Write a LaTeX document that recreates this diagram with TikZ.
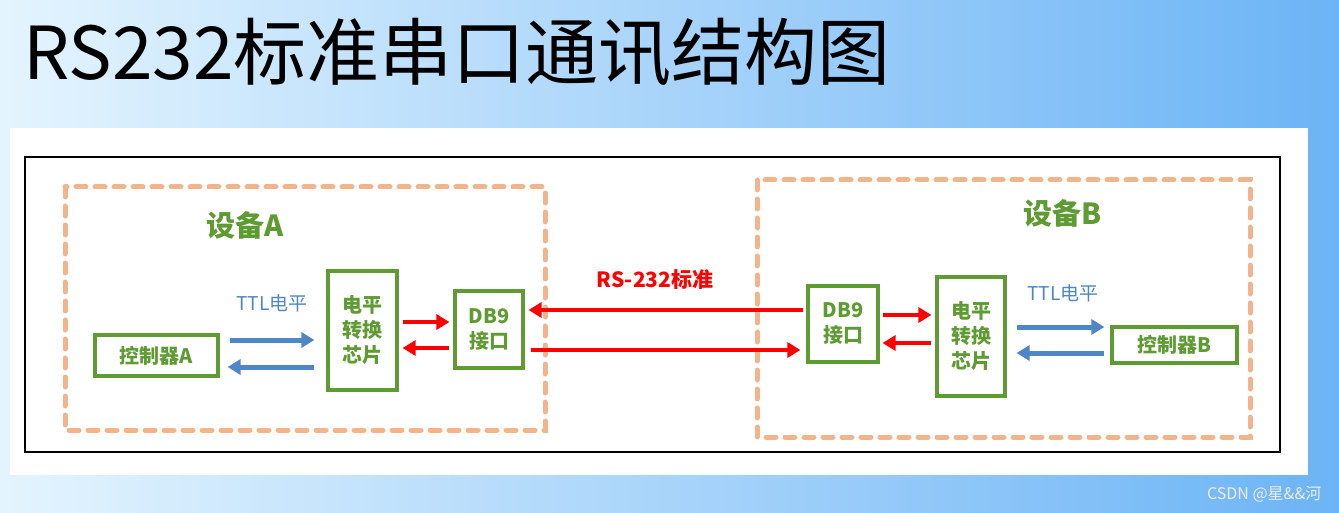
\documentclass[tikz,border=0pt]{standalone}
\usepackage{fontspec}
\setmainfont{Noto Sans CJK SC}
\newfontfamily\cjk{Noto Sans CJK SC}
\usetikzlibrary{arrows.meta}
\definecolor{gr}{HTML}{5E9B32}
\definecolor{og}{HTML}{F2B48A}
\definecolor{bl}{HTML}{4F86C6}
\definecolor{bgl}{HTML}{E4F4FE}
\definecolor{bgr}{HTML}{6CB4F6}
\begin{document}
\begin{tikzpicture}[x=1pt,y=-1pt,
  box/.style={draw=gr,line width=3.2pt,fill=white,text=gr,font=\cjk\fontsize{20}{25}\selectfont\bfseries,align=center,inner sep=0pt},
  grp/.style={draw=og,line width=5pt,line cap=round,dash pattern=on 10pt off 9pt},
  rarr/.style={draw=red,line width=4pt,-{Triangle[length=13pt,width=15pt]}},
  barr/.style={draw=bl,line width=5pt,-{Triangle[length=13pt,width=15pt]}}]
\useasboundingbox (0,0) rectangle (1339,513);
\shade[left color=bgl,right color=bgr] (0,0) rectangle (1339,513);
\fill[white] (10,128) rectangle (1308,475);
\draw[line width=2pt] (25,157) rectangle (1280,452);
\node[anchor=west,font=\cjk\fontsize{73}{76}\selectfont] (title) at (20,52) {RS232标准串口通讯结构图};
\node[anchor=east,text=white!85!gray,font=\cjk\fontsize{16}{18}\selectfont] (csdn) at (1325,494) {CSDN @星\&\&河};
\draw[grp] (65,187) rectangle (545,430);
\draw[grp] (757,180) rectangle (1250,437);
\node[text=gr,font=\cjk\fontsize{29}{30}\selectfont\bfseries] (devA) at (245,225) {设备A};
\node[text=gr,font=\cjk\fontsize{29}{30}\selectfont\bfseries] (devB) at (1063,213) {设备B};
\node[box,minimum width=123pt,minimum height=41pt] (ctrlA) at (156.5,355.5) {控制器A};
\node[box,minimum width=69pt,minimum height=119pt] (chipA) at (362.5,330.5) {电平\\转换\\芯片};
\node[box,minimum width=68pt,minimum height=77pt] (dbA) at (489,329.5) {DB9\\接口};
\node[box,minimum width=70pt,minimum height=76pt] (dbB) at (843,324) {DB9\\接口};
\node[box,minimum width=68pt,minimum height=119pt] (chipB) at (971,336.5) {电平\\转换\\芯片};
\node[box,minimum width=125pt,minimum height=36pt] (ctrlB) at (1174.5,345) {控制器B};
\node[text=bl,font=\cjk\fontsize{19}{20}\selectfont] (ttlA) at (272,303) {TTL电平};
\node[text=bl,font=\cjk\fontsize{19}{20}\selectfont] (ttlB) at (1063,293) {TTL电平};
\node[text=red,font=\cjk\fontsize{21}{22}\selectfont\bfseries] (rs) at (655,280) {RS-232标准};
\draw[barr] ([xshift=10pt]ctrlA.east|-0,340) -- ([xshift=-12pt]chipA.west|-0,340);
\draw[barr] ([xshift=-12pt]chipA.west|-0,367) -- ([xshift=8pt]ctrlA.east|-0,367);
\draw[rarr] ([xshift=4pt]chipA.east|-0,322) -- ([xshift=-4pt]dbA.west|-0,322);
\draw[rarr] ([xshift=-4pt]dbA.west|-0,348) -- ([xshift=4pt]chipA.east|-0,348);
\draw[rarr] ([xshift=-3pt]dbB.west|-0,310) -- ([xshift=4pt]dbA.east|-0,310);
\draw[rarr] ([xshift=6pt]dbA.east|-0,350) -- ([xshift=-6pt]dbB.west|-0,350);
\draw[rarr] ([xshift=3pt]dbB.east|-0,315) -- ([xshift=-4pt]chipB.west|-0,315);
\draw[rarr] ([xshift=-4pt]chipB.west|-0,343) -- ([xshift=3pt]dbB.east|-0,343);
\draw[barr] ([xshift=10pt]chipB.east|-0,327) -- ([xshift=-6pt]ctrlB.west|-0,327);
\draw[barr] ([xshift=-6pt]ctrlB.west|-0,353) -- ([xshift=10pt]chipB.east|-0,353);
\end{tikzpicture}
\end{document}
